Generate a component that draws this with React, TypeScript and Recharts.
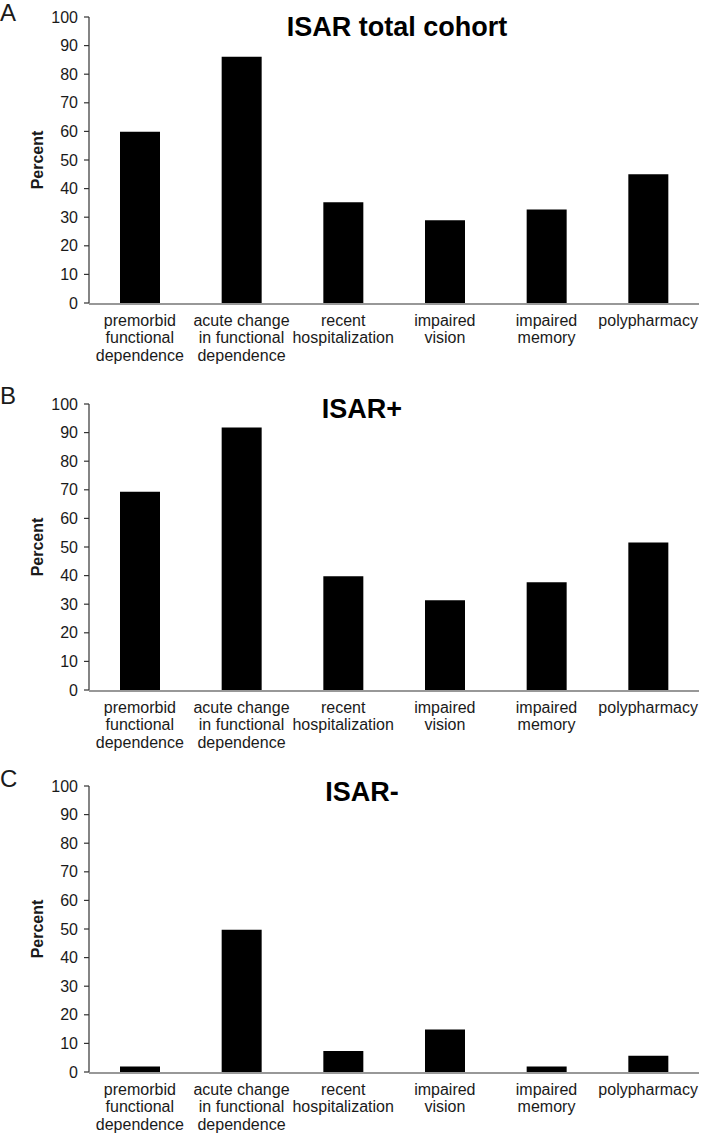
import React from 'react';
import { BarChart, Bar, XAxis, YAxis, Label } from 'recharts';

// category labels, line breaks as in the figure
const categories = [
  'premorbid\nfunctional\ndependence',
  'acute change\nin functional\ndependence',
  'recent\nhospitalization',
  'impaired\nvision',
  'impaired\nmemory',
  'polypharmacy',
];

// percent values per panel
const totalCohort = [59.9, 86.1, 35.2, 28.9, 32.7, 45.0];
const isarPositive = [69.3, 91.8, 39.8, 31.4, 37.7, 51.6];
const isarNegative = [1.9, 49.7, 7.3, 14.9, 1.9, 5.7];

const yTicks = [0, 10, 20, 30, 40, 50, 60, 70, 80, 90, 100];
const edgeTicks = [0, 1, 2, 3, 4, 5, 6];

const FONT = '"Liberation Sans", Arial, sans-serif';
const INK = '#1a1a1a';
const AXIS = '#333';

const CategoryTick = ({ x, y, payload }: any) => {
  const lines = String(payload.value).split('\n');
  return (
    <text x={x} y={y} textAnchor="middle" fontFamily={FONT} fontSize={16} fill={INK}>
      {lines.map((line, i) => (
        <tspan key={i} x={x} dy={i === 0 ? 22.5 : 17.7}>
          {line}
        </tspan>
      ))}
    </text>
  );
};

const PercentLabel = ({ viewBox }: any) => {
  const cy = viewBox.y + viewBox.height / 2;
  return (
    <text
      x={37}
      y={cy}
      transform={`rotate(-90, 37, ${cy})`}
      textAnchor="middle"
      dominantBaseline="central"
      fontFamily={FONT}
      fontWeight="bold"
      fontSize={16}
      fill={INK}
    >
      Percent
    </text>
  );
};

interface PanelProps {
  values: number[];
  title: string;
  letter: string;
  top: number;
  titleX: number;
  titleY: number;
  letterY: number;
}

const Panel: React.FC<PanelProps> = ({ values, title, letter, top, titleX, titleY, letterY }) => {
  const data = categories.map((name, i) => ({ name, value: values[i] }));
  return (
    <div style={{ position: 'absolute', left: 0, top, width: 701, height: 380 }}>
      <BarChart
        width={701}
        height={380}
        data={data}
        margin={{ top: 17, right: 2, bottom: 75, left: 0 }}
      >
        <XAxis
          xAxisId="edge"
          type="number"
          domain={[0, 6]}
          ticks={edgeTicks}
          allowDataOverflow
          height={1}
          tick={false}
          tickSize={4}
          tickLine={{ stroke: AXIS, strokeWidth: 1.2 }}
          axisLine={{ stroke: AXIS, strokeWidth: 1.2 }}
        />
        <XAxis
          xAxisId="cat"
          dataKey="name"
          height={1}
          interval={0}
          axisLine={false}
          tickLine={false}
          tickSize={0}
          tickMargin={0}
          tick={<CategoryTick />}
        />
        <YAxis
          domain={[0, 100]}
          ticks={yTicks}
          width={89}
          tickSize={5}
          tickMargin={6}
          tick={{ fontSize: 16, fill: INK, fontFamily: FONT }}
          tickLine={{ stroke: AXIS, strokeWidth: 1.2 }}
          axisLine={{ stroke: AXIS, strokeWidth: 1.2 }}
        >
          <Label content={<PercentLabel />} />
        </YAxis>
        <Bar xAxisId="cat" dataKey="value" fill="#000" barSize={40} isAnimationActive={false} />
      </BarChart>
      <svg
        width={701}
        height={380}
        style={{ position: 'absolute', left: 0, top: 0, pointerEvents: 'none', overflow: 'visible' }}
      >
        <text x={0} y={letterY} fontFamily={FONT} fontSize={24} fill={INK}>
          {letter}
        </text>
        <text
          x={titleX}
          y={titleY}
          textAnchor="middle"
          fontFamily={FONT}
          fontWeight="bold"
          fontSize={27}
          fill="#000"
        >
          {title}
        </text>
      </svg>
    </div>
  );
};

export default function App() {
  return (
    <div
      style={{
        position: 'absolute',
        left: 0,
        top: 0,
        width: 701,
        height: 1134,
        background: '#fff',
      }}
    >
      <Panel values={totalCohort} title="ISAR total cohort" letter="A" top={0} titleX={397} titleY={36} letterY={21} />
      <Panel values={isarPositive} title="ISAR+" letter="B" top={387} titleX={362} titleY={31} letterY={17} />
      <Panel values={isarNegative} title="ISAR-" letter="C" top={769} titleX={362} titleY={32} letterY={18} />
    </div>
  );
}
